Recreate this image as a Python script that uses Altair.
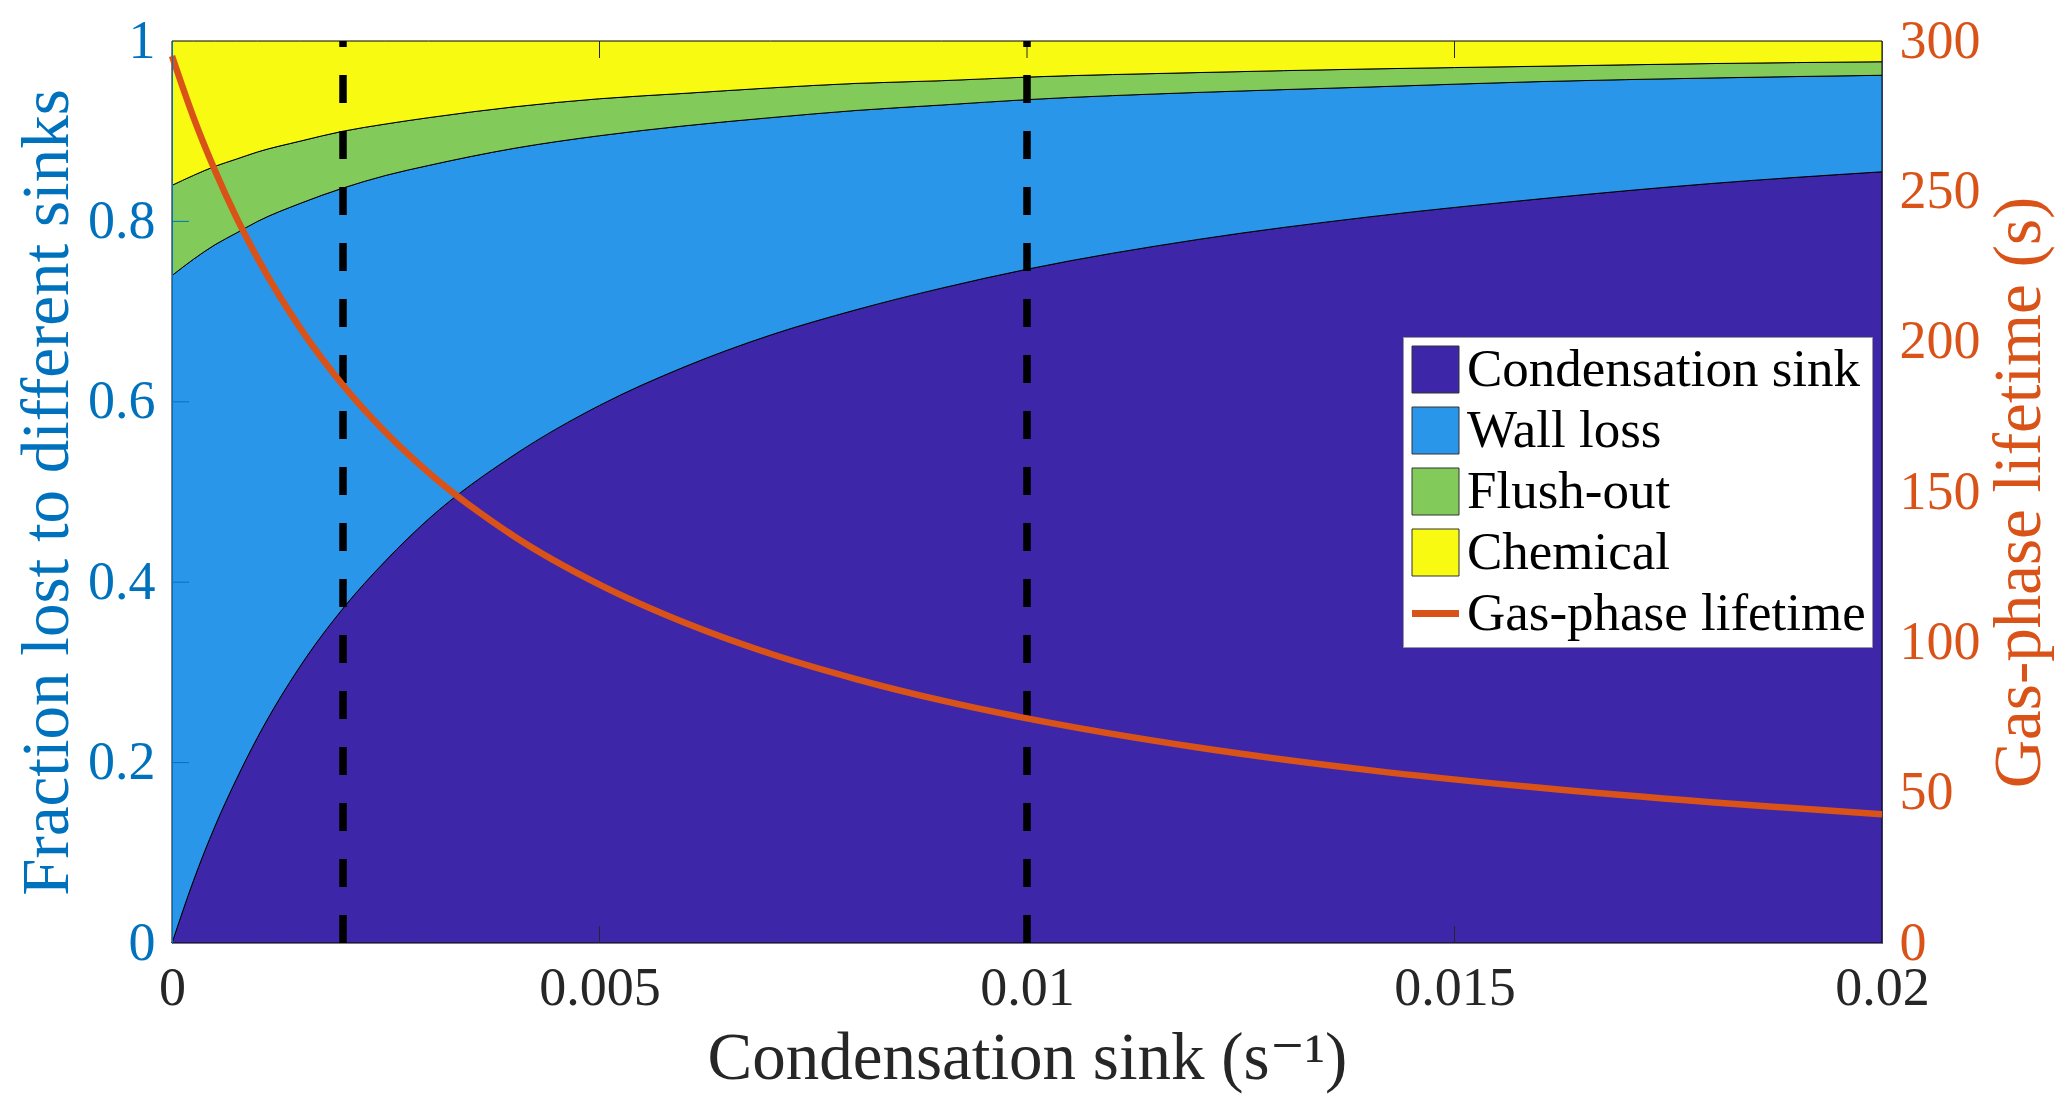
import altair as alt
import pandas as pd

# ---------------- data ----------------
cs = [0, 0.00025, 0.0005, 0.00075, 0.001, 0.0015, 0.002, 0.0025, 0.003, 0.004,
      0.005, 0.006, 0.007, 0.008, 0.009, 0.010, 0.012, 0.014, 0.016, 0.018, 0.020]
top_condensation = [0, 0.069, 0.129, 0.181, 0.228, 0.307, 0.371, 0.424, 0.470, 0.541,
                    0.596, 0.639, 0.674, 0.702, 0.726, 0.747, 0.780, 0.805, 0.825, 0.842, 0.855]
top_wall = [0.740, 0.758, 0.774, 0.787, 0.800, 0.820, 0.837, 0.851, 0.862, 0.881,
            0.895, 0.906, 0.915, 0.923, 0.929, 0.935, 0.943, 0.949, 0.955, 0.959, 0.962]
top_flush = [0.840, 0.851, 0.861, 0.869, 0.877, 0.889, 0.900, 0.908, 0.915, 0.927,
             0.936, 0.942, 0.948, 0.953, 0.956, 0.960, 0.965, 0.969, 0.972, 0.975, 0.977]
lifetime = [295, 274.7, 257.1, 241.5, 227.8, 204.5, 185.5, 169.8, 156.5, 135.3,
            119.2, 106.5, 96.2, 87.8, 80.7, 74.7, 65.0, 57.5, 51.6, 46.8, 42.8]

series_names = ["Condensation sink", "Wall loss", "Flush-out", "Chemical", "Gas-phase lifetime"]
series_colors = ["#3E26A8", "#2A96E9", "#82CA5A", "#F8FA12", "#D95319"]
dash_positions = [0.002, 0.01]
x_tick_values = [0, 0.005, 0.01, 0.015, 0.02]
left_tick_values = [0, 0.2, 0.4, 0.6, 0.8, 1]
right_tick_values = [0, 50, 100, 150, 200, 250, 300]

# ---------------- tables ----------------
n = len(cs)
lowers = [[0] * n, top_condensation, top_wall, top_flush]
uppers = [top_condensation, top_wall, top_flush, [1] * n]
rows = []
for name, lo, hi in zip(series_names[:4], lowers, uppers):
    for x, a, b in zip(cs, lo, hi):
        rows.append({"series": name, "x": x, "lo": a, "hi": b})
area_df = pd.DataFrame(rows)
line_df = pd.DataFrame({"x": cs, "lifetime": lifetime, "series": [series_names[4]] * n})
dash_df = pd.DataFrame({"x": dash_positions})
xtick_df = pd.DataFrame({"x": [v for v in x_tick_values[1:-1]]})
ytick_df = pd.DataFrame({"lo": [v for v in left_tick_values[1:-1]]})

FONT = "'Liberation Serif', 'DejaVu Serif', serif"
BLUE = "#0072BD"
ORANGE = "#D95319"
DARK = "#262626"

x_scale = alt.Scale(domain=[0, 0.02], nice=False, zero=False)
left_scale = alt.Scale(domain=[0, 1], nice=False)
right_scale = alt.Scale(domain=[0, 300], nice=False)
color_scale = alt.Scale(domain=series_names, range=series_colors)

x_axis = alt.Axis(
    values=x_tick_values, labelExpr="format(datum.value, '~g')", ticks=False, grid=False,
    domainColor="#7a7a7a", domainWidth=1, labelFont=FONT, labelFontSize=54,
    labelColor=DARK, labelPadding=18, labelFlush=False, labelOverlap=False,
    title="Condensation sink (s⁻¹)", titleFont=FONT, titleFontSize=67,
    titleFontWeight="normal", titleColor=DARK, titlePadding=10, zindex=1)

left_axis = alt.Axis(
    values=left_tick_values, labelExpr="format(datum.value, '~g')", ticks=False, grid=False,
    domainColor=BLUE, domainWidth=1, labelFont=FONT, labelFontSize=54,
    labelColor=BLUE, labelPadding=17, labelFlush=False, labelOverlap=False,
    title="Fraction lost to different sinks", titleFont=FONT, titleFontSize=67,
    titleFontWeight="normal", titleColor=BLUE, titlePadding=6, zindex=1)

right_axis = alt.Axis(
    orient="right", values=right_tick_values, ticks=False, grid=False,
    domainColor="#3a3a5a", domainWidth=1, labelFont=FONT, labelFontSize=54,
    labelColor=ORANGE, labelPadding=17, labelFlush=False, labelOverlap=False,
    title="Gas-phase lifetime (s)", titleFont=FONT, titleFontSize=67, titleAngle=270,
    titleBaseline="top", titleFontWeight="normal", titleColor=ORANGE, titlePadding=6,
    zindex=1)

legend = alt.Legend(
    title=None, orient="none", legendX=1231, legendY=296, fillColor="white",
    strokeColor="#9a9a9a", padding=6, labelFont=FONT, labelFontSize=53,
    labelColor="black", labelLimit=1000, labelOffset=5, symbolType="square",
    symbolSize=2209, symbolStrokeColor="#333333", symbolStrokeWidth=1,
    symbolOpacity=1, rowPadding=7)

X = alt.X("x:Q", scale=x_scale, axis=x_axis)

areas = alt.Chart(area_df).mark_area(
    interpolate="monotone", stroke="black", strokeWidth=1, opacity=1
).encode(
    x=X,
    y=alt.Y("lo:Q", scale=left_scale, axis=left_axis),
    y2="hi:Q",
    color=alt.Color("series:N", scale=color_scale, legend=legend),
    order=alt.Order("series:N"),
)

left_ticks = alt.Chart(ytick_df).mark_rule(color=BLUE, strokeWidth=1, x2Offset=17).encode(
    x=alt.datum(0), x2=alt.datum(0), y=alt.Y("lo:Q"))
bottom_ticks = alt.Chart(xtick_df).mark_rule(color=DARK, strokeWidth=1, y2Offset=-17).encode(
    x=alt.X("x:Q"), y=alt.datum(0), y2=alt.datum(0))
top_ticks = alt.Chart(xtick_df).mark_rule(color=DARK, strokeWidth=1, y2Offset=17).encode(
    x=alt.X("x:Q"), y=alt.datum(1), y2=alt.datum(1))

dashes = alt.Chart(dash_df).mark_rule(color="black", strokeWidth=7.5, strokeDash=[28, 28]).encode(
    x=alt.X("x:Q"), y=alt.datum(0), y2=alt.datum(1))

left_group = alt.layer(areas, left_ticks, bottom_ticks, top_ticks, dashes)

line = alt.Chart(line_df).mark_line(interpolate="monotone", strokeWidth=6.5).encode(
    x=alt.X("x:Q"),
    y=alt.Y("lifetime:Q", scale=right_scale, axis=right_axis),
    color=alt.Color("series:N", scale=color_scale),
)

LIFE = series_names[4]
cond = f"datum.value === '{LIFE}'"
legend_patch = [{
    "op": "add", "path": "/legends/0/encode",
    "value": {"symbols": {"update": {
        "shape": {"signal": f"{cond} ? 'stroke' : 'square'"},
        "size": {"value": 2209},
        "fill": {"signal": f"{cond} ? 'transparent' : scale('color', datum.value)"},
        "stroke": {"signal": f"{cond} ? '{ORANGE}' : '#333333'"},
        "strokeWidth": {"signal": f"{cond} ? 7 : 1"},
        "opacity": {"value": 1},
    }}},
}]

chart = alt.layer(left_group, line).resolve_scale(y="independent").properties(
    width=1710, height=902,
    padding={"left": 164, "top": 33, "right": 177, "bottom": 158},
    autosize=alt.AutoSizeParams(type="none"),
    background="white",
    usermeta={"embedOptions": {"patch": legend_patch}},
).configure_view(stroke="#555555", strokeWidth=1)

chart.save("out.html", embed_options={"renderer": "svg", "actions": False})
